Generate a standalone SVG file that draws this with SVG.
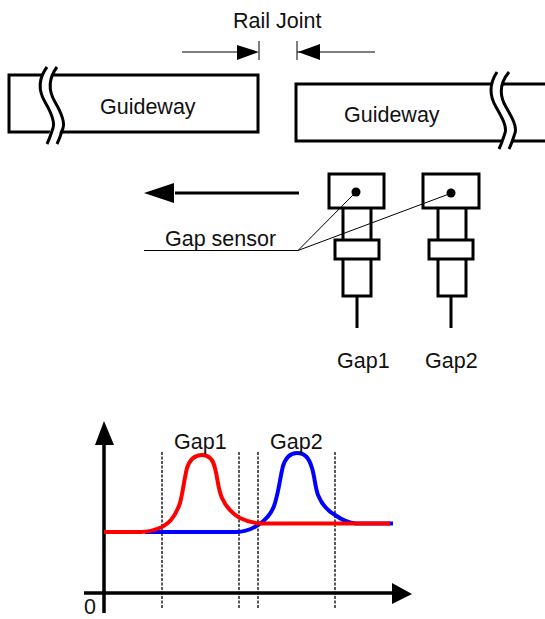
<svg xmlns="http://www.w3.org/2000/svg" width="545" height="619" viewBox="0 0 545 619">
<style>
text{font-family:"Liberation Sans",Arial,sans-serif;font-size:21.5px;fill:#111}
.b{fill:#fff;stroke:#000;stroke-width:3}
.l{fill:none;stroke:#000;stroke-width:3}
.a{fill:none;stroke:#000;stroke-width:3.5}
.t{fill:none;stroke:#000;stroke-width:1}
.d{fill:none;stroke:#000;stroke-width:1.3;stroke-dasharray:3 1.5}
</style>
<rect width="545" height="619" fill="#fff"/>
<g id="rail-joint">
<text x="233" y="28">Rail Joint</text>
<path class="t" d="M182 52H240M297 52H375"/>
<path class="t" d="M259 41V60M297 41V60"/>
<path d="M237 45L259 52L237 60ZM320 44L298 52L320 60Z"/>
</g>
<g id="guideway-left">
<rect class="b" x="9" y="75" width="249" height="57"/>
<path fill="#fff" d="M47 67C38 79 38 90 45 102C52 114 55 120 50 131L47 144H57L60 131C65 120 62 114 55 102C48 90 48 79 57 67Z"/>
<path class="l" d="M47 67C38 79 38 90 45 102C52 114 55 122 53 128C51 134 50 138 47 144M57 67C48 79 48 90 55 102C62 114 65 122 63 128C61 134 60 138 57 144"/>
<text x="100" y="114">Guideway</text>
</g>
<g id="guideway-right">
<path class="l" d="M545 84H296V141H545"/>
<path fill="#fff" d="M497 72C489 84 489 95 496 107C503 119 506 125 504 133L499 149H509L514 133C516 125 513 119 506 107C499 95 499 84 509 72Z"/>
<path class="l" d="M497 72C489 84 489 95 496 107C503 119 507 127 505 133C503 139 502 143 499 149M509 72C499 84 499 95 506 107C513 119 517 127 515 133C513 139 512 143 509 149"/>
<text x="344" y="122">Guideway</text>
</g>
<g id="direction-arrow">
<path class="l" d="M175 193H299"/>
<path d="M144 193L174 183V203Z"/>
</g>
<g id="sensor-1">
<path class="l" d="M343 208V241M371 208V241M343 259V296H371V259M357 296V328"/>
<rect class="b" x="329" y="174" width="55" height="34"/>
<rect class="b" x="335" y="240" width="44" height="19"/>
<circle cx="356" cy="192" r="4.5"/>
<text x="337" y="368">Gap1</text>
</g>
<g id="sensor-2">
<path class="l" d="M438 208V241M466 208V241M438 259V296H466V259M451 296V328"/>
<rect class="b" x="423" y="174" width="56" height="34"/>
<rect class="b" x="429" y="240" width="44" height="19"/>
<circle cx="451" cy="193" r="4.5"/>
<text x="425" y="368">Gap2</text>
</g>
<g id="gap-sensor-label">
<text x="165" y="246">Gap sensor</text>
<path class="t" d="M144 250.500H298L354 194M298 250.500L449 194"/>
</g>
<g id="chart">
<path class="a" d="M104 444V613M84 593H396"/>
<path d="M95 445L104 421L114 445ZM392 583L412 594L392 604Z"/>
<path class="d" d="M162 452V609M239 452V609M258 452V609M335 452V609"/>
<path fill="none" stroke="#00f" stroke-width="4" d="M145 532H236C245 532 252 529 258 525C266 520 272 514 275 503C279 490 280 478 283 466C286 457 290 453 297 453C305 453 309 458 312 468C315 478 315 487 318 495C322 505 328 511 335 515C342 520 348 523 356 523.500H393"/>
<path fill="none" stroke="#f00" stroke-width="4" d="M104 532H141C148 532 155 530 162 527C170 523 176 515 180 503C183 492 184 480 187 468C190 459 195 455 202 455C209 455 213 459 215 468C218 480 218 489 222 498C226 507 233 514 240 518C246 521 252 523 260 523.500H390"/>
<text x="174" y="449">Gap1</text>
<text x="270" y="449">Gap2</text>
<text x="84" y="614">0</text>
</g>
</svg>
